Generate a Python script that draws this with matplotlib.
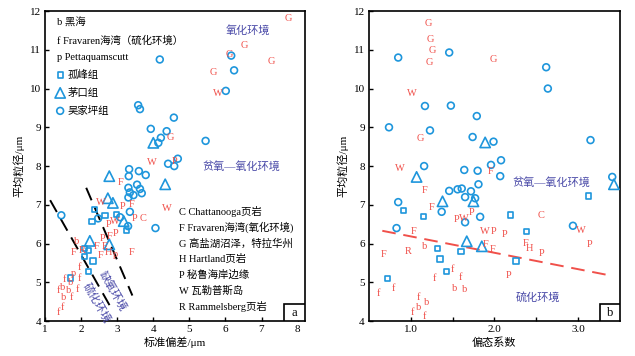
import matplotlib
matplotlib.use("Agg")
import matplotlib.pyplot as plt
from matplotlib.patches import Rectangle

plt.rcParams['font.family'] = ['Liberation Serif', 'Noto Sans CJK SC', 'DejaVu Sans']
plt.rcParams['axes.unicode_minus'] = False

BLUE = '#1E96DC'
RED = '#F0504A'
PURPLE = '#4A4AA8'

# ---- panel a: 标准偏差 vs 平均粒径 ----
a_square = [(2.38, 6.88), (2.66, 6.72), (2.97, 6.75), (2.30, 6.56), (3.25, 6.33), (2.09, 5.87),
            (2.21, 5.82), (2.09, 5.66), (2.33, 5.55), (2.21, 5.29), (1.70, 5.11)]
a_triangle = [(2.78, 7.74), (4.33, 7.53), (2.74, 7.17), (2.88, 7.05), (3.18, 6.58), (2.24, 6.07),
              (2.78, 5.98), (4.00, 8.60)]
a_circle = [(4.18, 10.75), (6.16, 10.85), (6.24, 10.47), (6.01, 9.94), (3.58, 9.57), (3.63, 9.47),
            (4.57, 9.25), (3.93, 8.96), (4.37, 8.90), (4.21, 8.73), (4.14, 8.60), (5.45, 8.65),
            (4.68, 8.19), (4.41, 8.06), (4.58, 8.00), (3.33, 7.92), (3.60, 7.87), (3.79, 7.77),
            (3.32, 7.74), (3.55, 7.52), (3.63, 7.41), (3.31, 7.44), (3.68, 7.30), (3.35, 7.32),
            (3.45, 7.25), (3.31, 7.19), (3.35, 6.82), (1.45, 6.73), (2.47, 6.65), (3.08, 6.68),
            (3.30, 6.45), (4.06, 6.40)]
a_G = [(6.12, 10.87), (6.53, 11.10), (7.74, 11.80), (7.27, 10.70), (5.65, 10.42), (4.48, 8.73)]
a_W = [(5.79, 9.88), (3.97, 8.10), (2.56, 7.07), (4.38, 6.90), (2.94, 6.57)]
a_P = [(4.58, 8.12), (3.16, 6.95), (3.47, 6.65), (2.75, 6.50), (2.60, 6.12), (2.95, 6.27)]
a_F = [(3.10, 7.57), (3.39, 7.02), (2.78, 6.18), (2.43, 5.93), (2.65, 5.93), (1.80, 5.76),
       (2.55, 5.69), (3.39, 5.76)]
a_C = [(3.72, 6.65)]
a_H = [(2.77, 5.76)]
a_R = [(2.03, 5.82)]
a_p = [(2.95, 5.72), (1.79, 5.22)]
a_b = [(1.86, 6.06), (1.71, 5.00), (1.49, 4.88), (1.65, 4.80), (1.52, 4.61)]
a_f = [(1.96, 5.39), (1.94, 5.11), (1.54, 5.07), (1.36, 4.79), (1.89, 4.81), (1.73, 4.61),
       (1.36, 4.21), (1.49, 4.34)]
a_line1 = [(1.14, 7.12), (2.83, 4.34)]
a_line2 = [(2.14, 7.44), (3.42, 4.66)]

# ---- panel b: 偏态系数 vs 平均粒径 ----
b_square = [(0.91, 6.85), (1.15, 6.70), (2.19, 6.74), (2.38, 6.31), (3.13, 7.23), (1.32, 5.88),
            (1.35, 5.60), (1.60, 5.79), (2.26, 5.55), (0.72, 5.10), (1.43, 5.27)]
b_triangle = [(1.89, 8.61), (1.07, 7.72), (3.43, 7.53), (1.38, 7.09), (1.75, 7.09), (1.67, 6.06),
              (1.85, 5.93)]
b_circle = [(0.85, 10.80), (1.46, 10.93), (2.62, 10.55), (2.64, 10.00), (1.17, 9.55), (1.48, 9.56),
            (1.79, 9.29), (0.74, 9.00), (1.23, 8.92), (1.74, 8.75), (1.99, 8.63), (3.15, 8.67),
            (1.16, 8.00), (1.64, 7.90), (1.80, 7.88), (1.96, 8.03), (2.08, 8.15), (2.07, 7.74),
            (3.41, 7.72), (1.81, 7.53), (1.46, 7.36), (1.56, 7.40), (1.61, 7.42), (1.72, 7.35),
            (1.65, 7.20), (1.77, 7.17), (0.85, 7.07), (1.37, 6.82), (1.83, 6.69), (1.65, 6.55),
            (0.83, 6.40), (2.94, 6.46)]
b_G = [(1.21, 11.68), (1.24, 11.27), (1.26, 10.97), (1.22, 10.68), (1.99, 10.74), (1.12, 8.71)]
b_W = [(1.01, 9.86), (0.87, 7.93), (1.63, 6.65), (1.89, 6.32), (3.04, 6.33)]
b_F = [(1.96, 7.86), (1.17, 7.37), (1.25, 6.92), (1.03, 6.32), (0.68, 5.72), (1.90, 5.97),
       (1.98, 5.86), (2.37, 6.00)]
b_P = [(1.73, 6.81), (1.55, 6.62), (1.99, 6.32), (2.12, 6.23), (2.56, 5.74), (3.14, 5.98),
       (2.17, 5.17)]
b_C = [(2.56, 6.72)]
b_H = [(2.42, 5.87)]
b_R = [(0.97, 5.80)]
b_b = [(1.17, 5.93), (1.53, 4.84), (1.64, 4.81), (1.19, 4.49), (1.09, 4.35)]
b_f = [(0.61, 4.70), (0.79, 4.84), (1.50, 5.33), (1.28, 5.11), (1.59, 5.12), (1.09, 4.61),
       (1.02, 4.23), (1.17, 4.12)]
b_line = [(0.66, 6.33), (3.38, 5.18)]

legend_top = ['b 黑海', 'f Fravaren海湾（硫化环境）', 'p Pettaquamscutt']
legend_groups = ['孤峰组', '茅口组', '吴家坪组']
legend_letters = ['C Chattanooga页岩', 'F Fravaren海湾(氧化环境)', 'G 高盐湖沼泽，特拉华州',
                  'H Hartland页岩', 'P 秘鲁海岸边缘', 'W 瓦勒普斯岛', 'R Rammelsberg页岩']


def xs(pts):
    return [p[0] for p in pts]


def ys(pts):
    return [p[1] for p in pts]


def draw_points(ax, squares, triangles, circles, letters):
    ax.scatter(xs(squares), ys(squares), marker='s', s=14, facecolors='none',
               edgecolors=BLUE, linewidths=1.2, zorder=3)
    ax.scatter(xs(triangles), ys(triangles), marker='^', s=55, facecolors='none',
               edgecolors=BLUE, linewidths=1.2, zorder=3)
    ax.scatter(xs(circles), ys(circles), marker='o', s=24, facecolors='none',
               edgecolors=BLUE, linewidths=1.2, zorder=3)
    for ch, pts in letters.items():
        for x, y in pts:
            ax.text(x, y, ch, color=RED, fontsize=7.5, ha='center', va='center', zorder=4)


def style_axes(ax, label):
    ax.set_ylim(4, 12)
    ax.set_yticks(range(4, 13))
    ax.tick_params(direction='in', length=3, width=1, labelsize=8, pad=3)
    for sp in ax.spines.values():
        sp.set_linewidth(1.2)
    ax.set_ylabel('平均粒径/μm', fontsize=8, labelpad=4)
    ax.add_patch(Rectangle((0.92, 0.0), 0.08, 0.055, transform=ax.transAxes,
                           facecolor='white', edgecolor='black', linewidth=1.2, zorder=5))
    ax.text(0.96, 0.027, label, transform=ax.transAxes, fontsize=9, ha='center',
            va='center', zorder=6)


fig = plt.figure(figsize=(6.35, 3.56), dpi=100)
ax1 = fig.add_axes([0.071, 0.098, 0.409, 0.871])
ax2 = fig.add_axes([0.581, 0.098, 0.395, 0.871])

# panel a
draw_points(ax1, a_square, a_triangle, a_circle,
            {'G': a_G, 'W': a_W, 'P': a_P, 'F': a_F, 'C': a_C, 'H': a_H, 'R': a_R,
             'p': a_p, 'b': a_b, 'f': a_f})
for ln in (a_line1, a_line2):
    ax1.plot(xs(ln), ys(ln), color='black', lw=1.4, dashes=(7, 4), zorder=2)
ax1.set_xlim(1, 8.2)
ax1.set_xticks(range(1, 9))
ax1.set_xlabel('标准偏差/μm', fontsize=8, labelpad=2)
style_axes(ax1, 'a')

ax1.text(6.62, 11.5, '氧化环境', color=PURPLE, fontsize=8, ha='center', va='center')
ax1.text(6.44, 8.0, '贫氧—氧化环境', color=PURPLE, fontsize=8, ha='center', va='center')
ax1.text(2.42, 4.48, '硫化环境', color=PURPLE, fontsize=8, ha='center', va='center',
         rotation=-60)
ax1.text(2.88, 4.78, '缺氧环境', color=PURPLE, fontsize=8, ha='center', va='center',
         rotation=-60)

yy = 0.962
for t in legend_top:
    ax1.text(0.045, yy, t, transform=ax1.transAxes, fontsize=7.5, va='center')
    yy -= 0.056
for mk, ms, t in zip(['s', '^', 'o'], [14, 55, 24], legend_groups):
    ax1.scatter([0.058], [yy], marker=mk, s=ms, facecolors='none', edgecolors=BLUE,
                linewidths=1.2, transform=ax1.transAxes)
    ax1.text(0.085, yy, t, transform=ax1.transAxes, fontsize=7.5, va='center')
    yy -= 0.058
yy = 0.353
for t in legend_letters:
    ax1.text(0.515, yy, t, transform=ax1.transAxes, fontsize=7.5, va='center')
    yy -= 0.051

# panel b
draw_points(ax2, b_square, b_triangle, b_circle,
            {'G': b_G, 'W': b_W, 'F': b_F, 'P': b_P, 'C': b_C, 'H': b_H, 'R': b_R,
             'b': b_b, 'f': b_f})
ax2.plot(xs(b_line), ys(b_line), color=RED, lw=1.4, dashes=(7, 4), zorder=2)
ax2.set_xlim(0.5, 3.5)
ax2.set_xticks([1.0, 2.0, 3.0])
ax2.set_xticklabels(['1.0', '2.0', '3.0'])
ax2.set_xticks([1.5, 2.5], minor=True)
ax2.tick_params(which='minor', direction='in', length=3, width=1)
ax2.set_xlabel('偏态系数', fontsize=8, labelpad=2)
style_axes(ax2, 'b')
ax2.text(2.68, 7.57, '贫氧—氧化环境', color=PURPLE, fontsize=8, ha='center', va='center')
ax2.text(2.52, 4.61, '硫化环境', color=PURPLE, fontsize=8, ha='center', va='center')

fig.savefig('out.png', dpi=100)
